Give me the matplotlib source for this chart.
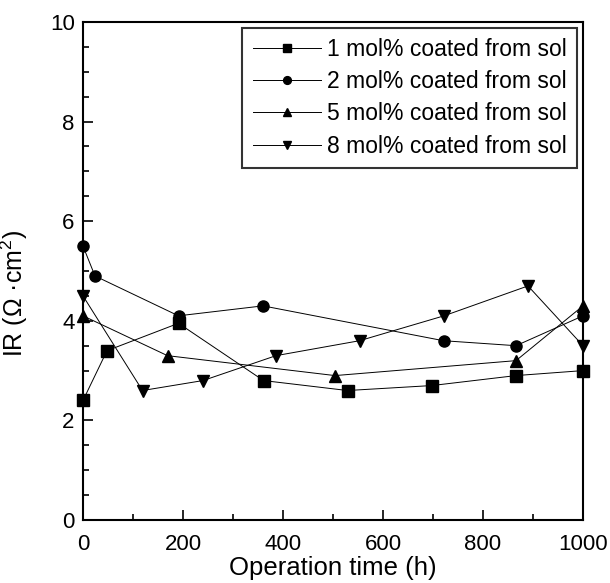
import matplotlib
matplotlib.use("Agg")
import matplotlib.pyplot as plt
from matplotlib.ticker import MultipleLocator

plt.rcParams["font.family"] = ["Liberation Sans", "DejaVu Sans"]
plt.rcParams["mathtext.fontset"] = "custom"
plt.rcParams["mathtext.rm"] = "Liberation Sans"
plt.rcParams["mathtext.it"] = "Liberation Sans:italic"

# 1 mol% (squares)
t1 = [0, 48, 191, 361, 529, 698, 866, 1000]
ir1 = [2.4, 3.4, 3.95, 2.8, 2.6, 2.7, 2.9, 3.0]
# 2 mol% (circles)
t2 = [0, 24, 191, 360, 721, 866, 1000]
ir2 = [5.5, 4.9, 4.1, 4.3, 3.6, 3.5, 4.1]
# 5 mol% (up triangles)
t5 = [0, 169, 504, 866, 1000]
ir5 = [4.1, 3.3, 2.9, 3.2, 4.3]
# 8 mol% (down triangles)
t8 = [0, 119, 240, 386, 553, 722, 890, 1000]
ir8 = [4.5, 2.6, 2.8, 3.3, 3.6, 4.1, 4.7, 3.5]

labels = ["1 mol% coated from sol", "2 mol% coated from sol",
          "5 mol% coated from sol", "8 mol% coated from sol"]
series = [(t1, ir1, "s"), (t2, ir2, "o"), (t5, ir5, "^"), (t8, ir8, "v")]

fig = plt.figure(figsize=(6.1, 5.83), dpi=100)
# axes box: x 83..583 px, y 22..520 px
ax = fig.add_axes([83 / 610, 63 / 583, 500 / 610, 498 / 583])

for (t, ir, m), lab in zip(series, labels):
    ax.plot(t, ir, color="black", marker=m, markersize=8, linewidth=0.7,
            label=lab, clip_on=False, zorder=3)

ax.set_xlim(0, 1000)
ax.set_ylim(0, 10)
ax.xaxis.set_major_locator(MultipleLocator(200))
ax.xaxis.set_minor_locator(MultipleLocator(100))
ax.yaxis.set_major_locator(MultipleLocator(2))
ax.yaxis.set_minor_locator(MultipleLocator(0.5))
ax.tick_params(which="both", direction="in", top=False, right=False,
               labelsize=16, width=1.2)
ax.tick_params(which="major", length=7)
ax.tick_params(which="minor", length=4)
ax.tick_params(axis="x", which="major", pad=10)
ax.tick_params(axis="y", which="major", pad=6)
for s in ax.spines.values():
    s.set_linewidth(1.5)

ax.set_xlabel("Operation time (h)", fontsize=18.5, labelpad=1)
ax.set_ylabel("IR (\u03a9 \u00b7cm$^2$)", fontsize=18)
ax.yaxis.set_label_coords(-0.106, 0.454)

leg = ax.legend(loc="upper right", fontsize=16.5, frameon=True, fancybox=False,
                edgecolor="black", handlelength=3.0, handletextpad=0.25,
                markerscale=0.7, borderpad=0.45, labelspacing=0.4,
                borderaxespad=0.25)
leg.get_frame().set_linewidth(1.5)

fig.savefig("out.png", dpi=100)
